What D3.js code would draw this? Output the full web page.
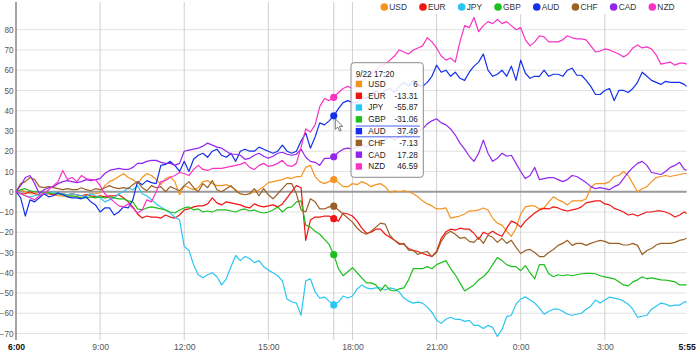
<!DOCTYPE html>
<html><head><meta charset="utf-8">
<script src="https://cdn.jsdelivr.net/npm/d3@7"></script>
<style>
html,body{margin:0;padding:0;background:#fff;}
svg{display:block;font-family:"Liberation Sans",Arial,sans-serif;}
</style></head><body>
<svg id="c" width="700" height="358"></svg>
<script>
const currencies = ["USD","EUR","JPY","GBP","AUD","CHF","CAD","NZD"];
const colors = ["#f5931f","#f01414","#2ac6f2","#1cbf1c","#1530ea","#9a6126","#9326ee","#f733c6"];
const yTicks = [80,70,60,50,40,30,20,10,0,-10,-20,-30,-40,-50,-60,-70];
const xTickLabels = ["6:00","9:00","12:00","15:00","18:00","21:00","0:00","3:00","5:55"];
const hoverLabel = "9/22 17:20";
const hoverIndex = 68;

const usd = [0,1,0,-1,-1,0, -1,-1,-1.5,-2,-2,-2.5, -2.5,-2,-2,-1.5,-1,-1, -0.5,3,5,6,7.5,9,
 7,6,4,7,9,8, 6,3.5,6.5,7.5,5,-1.5, 3,2,1,2,5,5.5, 4,3,3,3.5,2.5,1,
 -1,-1.5,-1,0,1,2.5, 4.5,5,5.5,6,7,6.5, 7.5,7.5,12,13,7.5,5, 4,5,6,4.5,2.5,2.5,
 4,3.5,5,4,2.5,3.5, 4,2.5,-0.5,0.5,0,0.5, 0,-1,-2.5,-4.5,-6,-7, -8.5,-8.5,-8,-13,-12.5,-12,
 -11,-9.5,-9.5,-9,-8,-9, -13,-15.5,-16.5,-19.5,-22,-18, -11,-7.5,-7,-7,-8.5,-8, -5,-2.5,-4,-5,-6.5,-4.5,
 -4.5,-4.5,-3.5,2,4,4, 4,5,7.5,8,10,8, 4,0,1.5,2.5,5,7, 7.5,8,7.5,8,8.5,9, 9];
const eur = [0,-1,-1,0,-1,-1.5, -1,-1,-1.5,-1,-1,-1.5, -1,-1.5,-2,-1.5,-2,-2.5, -2,-2.5,-2,-2,-1.5,-3,
 -5,-7.5,-11,-13,-12,-12.5, -12.5,-13,-11.5,-12.5,-13,-11.5, -9,-8.5,-7.5,-7,-7,-6, -3,-5.5,-6.5,-5,-5.5,-6,
 -6.5,-7.5,-8,-6,-7,-7.5, -7,-6.5,-7.5,-6,-3,0, 3,2,-24,-14,-12.5,-12.5, -12,-12,-13.31,-14.5,-10.5,-11,
 -12,-14.5,-18,-20.5,-20,-18.5, -18.5,-21,-22.5,-24,-25.5,-26, -28,-29,-29.5,-30.5,-31.3,-32, -29.5,-23,-19.8,-18.5,-19,-18,
 -18.5,-18.5,-20.5,-23.5,-20,-21, -19.5,-21,-22,-18,-14.5,-15.5, -17.5,-14.5,-12.5,-10.5,-9,-8.2, -8.5,-7.5,-8,-9,-9.5,-9,
 -8.5,-7.5,-5.5,-5,-4.5,-4.5, -6,-6.5,-8.2,-9,-10,-11.5, -11,-12,-11,-10,-10,-9.5, -9.5,-10,-11,-12.5,-11.5,-10, -10.7];
const jpy = [0,-1,-2,-2.5,-2,-1.5, -1,-0.5,0,-1,-1,-1.5, -1,-1.5,-2,-2.5,-1,-2, -3,-5,-4,-3,-1,0,
 2,1,3,-1,-2,-4, -6,-7.5,-9,-10.5,-12.5,-14, -27,-29,-36,-41,-42.5,-41, -40,-42,-46,-43,-37,-31.5,
 -34,-32,-33,-35,-34,-37, -38.7,-40,-41.5,-44,-53,-54.3, -55,-61,-44,-43,-49.5,-52.5, -52,-54,-55.87,-54.5,-51.5,-52.5,
 -51.5,-48,-46,-47.5,-48,-47.5, -47.5,-48.5,-47.5,-48,-49.5,-52.5, -54,-55,-54.5,-55,-57,-59.5, -63.4,-65,-63,-62,-63,-63,
 -64,-63.5,-66,-66,-67.5,-66, -67,-71.5,-68,-61.7,-61,-55.5, -53,-51.9,-53.5,-55,-57.5,-60.5, -59,-58,-58,-59,-60.5,-61,
 -60.5,-60,-58,-56.5,-53.5,-55, -53.5,-52,-52.5,-53,-54,-55.5, -58,-62,-61.5,-61,-58,-56.5, -55,-55.5,-56.5,-56,-56,-54.5, -54.3];
const gbp = [0,1,1.5,0.5,0,0, -0.5,-0.5,-1,-1,-1.5,-2, -2,-2.5,-3,-3,-2.5,-3, -2.5,-3,-2.5,-3,-3.5,-3.5,
 -4.5,-5,-8.5,-9,-8,-7.5, -8,-8.5,-9,-10,-10.5,-9, -8,-7.5,-9,-8.5,-10,-9.5, -10,-9,-9,-9,-9.5,-10,
 -9,-8.5,-9.5,-9,-10,-10.5, -10,-9,-7.5,-10,-8,-7.5, -5,-4.5,-16.5,-17.5,-19.5,-21, -23.5,-26,-31.06,-38,-41.5,-39.5,
 -37.5,-40,-42.5,-45,-45,-46, -49,-46,-48.5,-49,-48,-47.5, -43.5,-38,-38,-38,-37,-38, -36,-35,-34,-38,-41,-45,
 -49,-47.5,-46,-43.5,-42,-39.5, -36,-32.5,-34,-36,-37,-37, -39,-36.5,-40,-43,-36,-36, -40.5,-42,-41,-41.5,-41,-41.5,
 -41,-40.5,-40.3,-40.3,-40.5,-41.5, -42,-42.5,-43,-44.5,-46,-46.5, -44.5,-43.5,-42,-43,-42.5,-43, -43.5,-43.6,-44,-44.5,-46,-46, -46];
const aud = [0,-3,-12,-4,-5,-3, -1,-2.5,-2,-0.5,-1.5,-2.5, -3,-3,-3.5,-2.5,-5,-6.5, -10,-8,-8,-11.5,-10,-7.5,
 -8,-4,5,3.5,5.5,4.5, 4,13,13.5,15,13,10, 15,10,16,18,19,17, 20,21,18,17,19,15,
 20,21,20,20,22,21, 20,19,20,23,20,19, 20,25,29,21.5,27,34, 33,35,37.49,41,44,45,
 44,44,47,46,48,50, 48,50,51,49,52,54, 52,55,53,52,54,57, 62.5,59,60,57,59,56,
 55,59,62,64,68,60, 57,58,60,57,62,55, 65,58.5,56,57,57,60, 57,58,58,57,60,61,
 57.5,57.5,55,52,48,48, 50,51,45,50,50,49, 51,54,59,57,55,54, 53,54.5,54,54,54,53, 52];
const chf = [0,4,5,7,6,2.5, 2,2.5,2,1.5,1,1.5, 1,1,2,1,0.5,1.5, 1,2,3,2,1.5,2,
 1.5,3.5,5,2,0.5,3, 2,2.5,0,2.5,1.5,0.5, 3,5,2,0,4,2, 5.5,1,0,1.5,3,0.5,
 -1,-1.5,-1,1.5,-2,1.5, -1.5,-3.5,-1,1.5,4,4, -1,-9,-10,-3.5,-5,-8.5, -8.5,-7.5,-7.13,-9,-11,-13,
 -15,-18,-20,-21,-19.5,-17.5, -15.5,-16,-21.5,-24,-26,-25.5, -28.8,-29,-31,-30,-29.5,-32, -30,-24.5,-21,-19.5,-21,-23,
 -22.5,-24.5,-25,-22.5,-25.5,-21.5, -22.5,-25,-23,-25.5,-24,-27.5, -30.5,-29,-28.5,-30,-32,-32, -30,-28.5,-26.5,-25.5,-24,-26.5,
 -25.5,-25.5,-26.5,-25.5,-24.7,-24, -24.5,-25.5,-25.5,-25.5,-26.3,-26.3, -25.5,-26.5,-31,-29,-28,-26.3, -25.5,-25.5,-25.5,-25,-24,-23.5, -23];
const cad = [0,3,7,8,4,-1, 1,2,2.5,4,5,5.5, 5,4.5,5,6,5.5,6, 6.5,9,10.5,11,11.5,11,
 11,12,14,14,15,15.5, 15.5,14.5,14,14,13,14, 20,20.5,21,21.5,22.5,24, 23,22,21.5,20,18.5,18.5,
 18,16,16.5,18,19,17.5, 16.5,17.5,19,19.5,18.5,18, 18.5,21,17,15,14.5,13, 16.5,16.5,17.28,19.5,21,21.5,
 21,22,23.5,22,24,25, 24,26,27,25.5,27,28, 27,29,30,31,33.5,35, 36,34,33,31,28,24,
 21,17.5,15,19,25.5,19, 15,16.5,19,17.5,18,14, 10,6.5,8,12,6,6.5, 7,7,6,5,6,8,
 7.5,6,4.5,2.5,1.5,2, 1.5,1,2.5,3.5,6.5,9.5, 12,14,15,13,9.5,9, 8.5,10,12,13,14.5,11, 10.7];
const nzd = [0,-1,-2,-3,-4,-2, -1,1,3,5,10.5,6, 7,5,8,6.5,6,6, 3,-1,-3,-5,-7,-7.5,
 -6,-8,-10.5,-9,-4,-5, 0,5,5.5,7,8,9.5, 9,8,11,13,11,10.5, 11.5,11.5,11.5,12,12.5,13,
 13.5,14.5,12,11,13,14, 12.5,13,14,15.5,13,12.5, 14,22,31,29.5,33,42, 46,45,46.59,49,51,52,
 51,53,55,56,58,60, 62,63,65,67,70,69, 68,70,71,72,76,74, 71,67,65,66,64,74,
 82,81,86,79,82,84, 83,85,83,84,82,80, 81,75,72,74,77,76.5, 74,74,74,75,77,76,
 75.5,75.5,75,72,69,69.5, 70.5,70,69,68,66.5,68, 71,72.5,71,71.5,70.5,67.5, 63,63.5,64,62.5,63.5,63.5, 63];

const seriesValues = [usd, eur, jpy, gbp, aud, chf, cad, nzd];

const svg = d3.select("#c");
const start = new Date(2015, 8, 22, 6, 0);
const end = d3.timeMinute.offset(start, 23 * 60 + 55);
const n = usd.length;
const times = d3.range(n).map(i => i < n - 1 ? d3.timeMinute.offset(start, i * 10) : end);

const plotTop = 2, plotBottom = 340;
const x = d3.scaleTime().domain([start, end]).range([16, 686.6]);
const y = d3.scaleLinear().domain([-70, 80]).range([333.5, 29.7]);

const tickDates = xTickLabels.map(s => {
  const [h, m] = s.split(":").map(Number);
  const off = (h - 6 + (h < 6 ? 24 : 0)) * 60 + m;
  return d3.timeMinute.offset(start, off);
});

// horizontal grid
svg.append("g").selectAll("line").data(yTicks.filter(v => v !== 0)).join("line")
  .attr("x1", x(start)).attr("x2", x(end))
  .attr("y1", d => y(d)).attr("y2", d => y(d))
  .attr("stroke", "#e1e1e1").attr("stroke-width", 1);

// vertical grid
svg.append("g").selectAll("line").data(tickDates.slice(1, -1)).join("line")
  .attr("x1", d => x(d)).attr("x2", d => x(d))
  .attr("y1", plotTop).attr("y2", plotBottom)
  .attr("stroke", "#d0d0d0").attr("stroke-width", 1);

// hover line
svg.append("line")
  .attr("x1", x(times[hoverIndex])).attr("x2", x(times[hoverIndex]))
  .attr("y1", plotTop).attr("y2", plotBottom)
  .attr("stroke", "#cdcdcd").attr("stroke-width", 1);

// y axis
const yAxis = d3.axisLeft(y).tickValues(yTicks).tickSize(0).tickPadding(2.5);
const gy = svg.append("g").attr("transform", `translate(${x(start)},0)`).call(yAxis);
gy.select(".domain").remove();
gy.selectAll("text").attr("font-size", 8.2).attr("fill", "#555").attr("font-family", "Liberation Sans, Arial, sans-serif");

// x axis
const xAxis = d3.axisBottom(x).tickValues(tickDates).tickFormat((d, i) => xTickLabels[i]).tickSize(0).tickPadding(3.5);
const gx = svg.append("g").attr("transform", `translate(0,${plotBottom})`).call(xAxis);
gx.select(".domain").remove();
gx.selectAll("text").attr("font-size", 8.6).attr("font-family", "Liberation Sans, Arial, sans-serif")
  .attr("font-weight", (d, i) => (i === 0 || i === xTickLabels.length - 1) ? "bold" : "normal")
  .attr("fill", (d, i) => (i === 0 || i === xTickLabels.length - 1) ? "#111" : "#555");

// left axis line
svg.append("line").attr("x1", x(start)).attr("x2", x(start)).attr("y1", plotTop).attr("y2", plotBottom)
  .attr("stroke", "#8f8f8f").attr("stroke-width", 1.6);

// zero line
svg.append("line").attr("x1", x(start)).attr("x2", x(end)).attr("y1", y(0)).attr("y2", y(0))
  .attr("stroke", "#9a9a9a").attr("stroke-width", 2);

// series lines
const line = d3.line().x((d, i) => x(times[i])).y(d => y(d));
svg.append("g").selectAll("path").data(seriesValues).join("path")
  .attr("d", d => line(d)).attr("fill", "none")
  .attr("stroke", (d, i) => colors[i]).attr("stroke-width", 1.2).attr("stroke-linejoin", "round");

// hover markers
svg.append("g").selectAll("circle").data(seriesValues).join("circle")
  .attr("cx", x(times[hoverIndex])).attr("cy", d => y(d[hoverIndex])).attr("r", 3.6)
  .attr("fill", (d, i) => colors[i]);

// cursor
svg.append("path")
  .attr("transform", `translate(${x(times[hoverIndex]) + 1.5},${y(aud[hoverIndex]) + 3})`)
  .attr("d", "M0,0 L0,10.5 L2.4,8.2 L4.3,12.3 L5.9,11.6 L4.1,7.6 L7.4,7.6 Z")
  .attr("fill", "#fff").attr("stroke", "#555").attr("stroke-width", 0.8);

// tooltip
const tip = svg.append("g").attr("transform", "translate(351,62.7)");
tip.append("rect").attr("width", 72.3).attr("height", 114.6).attr("rx", 3)
  .attr("fill", "rgba(255,255,255,0.86)").attr("stroke", "#8a8a8a").attr("stroke-width", 1);
tip.append("text").attr("x", 4.7).attr("y", 14.4).attr("font-size", 8.2).attr("fill", "#222").text(hoverLabel);
const rowY = i => 21.3 + i * 11.78;
const rows = tip.selectAll("g.row").data(currencies).join("g").attr("class", "row");
rows.append("rect").attr("x", 4.7).attr("y", (d, i) => rowY(i) - 3.2).attr("width", 6.4).attr("height", 6.4)
  .attr("fill", (d, i) => colors[i]);
rows.append("text").attr("x", 17.3).attr("y", (d, i) => rowY(i) + 2.9).attr("font-size", 8.2).attr("fill", "#222").text(d => d);
rows.append("text").attr("x", 66.8).attr("y", (d, i) => rowY(i) + 2.9).attr("font-size", 8.2).attr("fill", "#222")
  .attr("text-anchor", "end").text((d, i) => String(seriesValues[i][hoverIndex]));
const hi = currencies.indexOf("AUD");
[rowY(hi) - 5.1, rowY(hi) + 5.7].forEach(yy => {
  tip.append("line").attr("x1", 4.7).attr("x2", 69).attr("y1", yy).attr("y2", yy)
    .attr("stroke", colors[hi]).attr("stroke-width", 0.9).attr("opacity", 0.85);
});

// legend
const legend = svg.append("g");
const legendBg = legend.append("rect").attr("x", 376).attr("y", 0).attr("height", 14).attr("fill", "#fff");
let cx = 384.3;
currencies.forEach((c, i) => {
  legend.append("circle").attr("cx", cx).attr("cy", 7).attr("r", 3.8).attr("fill", colors[i]);
  const t = legend.append("text").attr("x", cx + 5).attr("y", 10).attr("font-size", 8.4).attr("fill", "#333").text(c);
  cx = cx + 5 + t.node().getComputedTextLength() + 16;
});
legendBg.attr("width", cx - 376);
</script>
</body></html>
